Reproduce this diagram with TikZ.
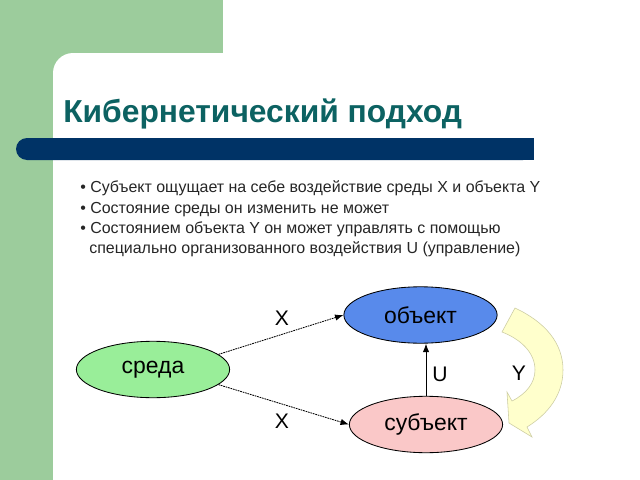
\documentclass[tikz,border=0pt]{standalone}
\usepackage{fontspec}
\setmainfont{Liberation Sans}
\usetikzlibrary{shapes.geometric, arrows.meta}

\definecolor{panelgreen}{RGB}{156,204,156}
\definecolor{titleteal}{RGB}{12,98,98}
\definecolor{barnavy}{RGB}{0,51,102}
\definecolor{sredafill}{RGB}{153,238,153}
\definecolor{objfill}{RGB}{88,138,235}
\definecolor{subjfill}{RGB}{250,200,200}
\definecolor{yfill}{RGB}{255,255,204}

\begin{document}
\begin{tikzpicture}[x=0.025cm, y=-0.025cm,
  blob/.style={draw, ellipse, line width=0.6pt, inner sep=0pt,
    minimum width=3.83cm, minimum height=1.41cm, font=\fontsize{16.3}{18}\selectfont},
  flow/.style={-{Latex[length=6pt, width=4.5pt]}, line width=0.6pt},
  lbl/.style={font=\fontsize{15}{17}\selectfont, inner sep=0pt},
  bullet/.style={anchor=base west, inner sep=0pt, text=black!85,
    font=\fontsize{11.35}{13}\selectfont}]

\useasboundingbox (0,0) rectangle (640,480);

% ======================
% Background panel
% ======================
\fill[panelgreen] (0,0) rectangle (223,53);
\fill[panelgreen] (0,0) rectangle (53,480);
\fill[panelgreen] (53,53) rectangle (80,80);
\fill[white, rounded corners=0.5cm] (53,53) rectangle (640,480);

% ======================
% Title and bar
% ======================
\node[anchor=base west, inner sep=0pt, text=titleteal,
  font=\bfseries\fontsize{22.6}{26}\selectfont] (title) at (63,122) {Кибернетический подход};
\fill[barnavy, rounded corners=0.275cm] (16,138) rectangle (534,160);
\fill[barnavy] (500,138) rectangle (534,160);

% ======================
% Bullets
% ======================
\node[bullet] (b1) at (80,192) {• Субъект ощущает на себе воздействие среды X и объекта Y};
\node[bullet] (b2) at (80,213) {• Состояние среды он изменить не может};
\node[bullet] (b3) at (80,233) {• Состоянием объекта Y он может управлять с помощью};
\node[bullet] (b4) at (89,253) {специально организованного воздействия U (управление)};

% ======================
% Diagram
% ======================
\node[blob, fill=sredafill] (sreda) at (153,369.5) {среда};
\node[blob, fill=objfill] (obj) at (420.5,315) {объект};
\node[blob, fill=subjfill] (subj) at (426,424.5) {субъект};

\draw[flow, dash pattern=on 1.2pt off 0.6pt] (sreda.13) -- (obj.west);
\draw[flow, dash pattern=on 1.2pt off 0.6pt] (sreda.-13) -- (subj.west);
\draw[flow] (subj.north) -- (subj.north |- obj.south);

\node[lbl] (x1) at (282,318.5) {X};
\node[lbl] (x2) at (282,421) {X};
\node[lbl] (u) at (440,374) {U};

% feedback Y
\draw[yfill!80!black, fill=yfill, line width=0.4pt]
  (515,308) .. controls (545,322) and (563,343) .. (563,370)
  .. controls (563,395) and (548,414) .. (527,427)
  -- (532,437) -- (509,423) -- (507,392) -- (512,401)
  .. controls (526,394) and (535,383) .. (535,370)
  .. controls (535,352) and (520,339) .. (502,332) -- cycle;
\node[lbl] (y) at (519,373) {Y};

\end{tikzpicture}
\end{document}
